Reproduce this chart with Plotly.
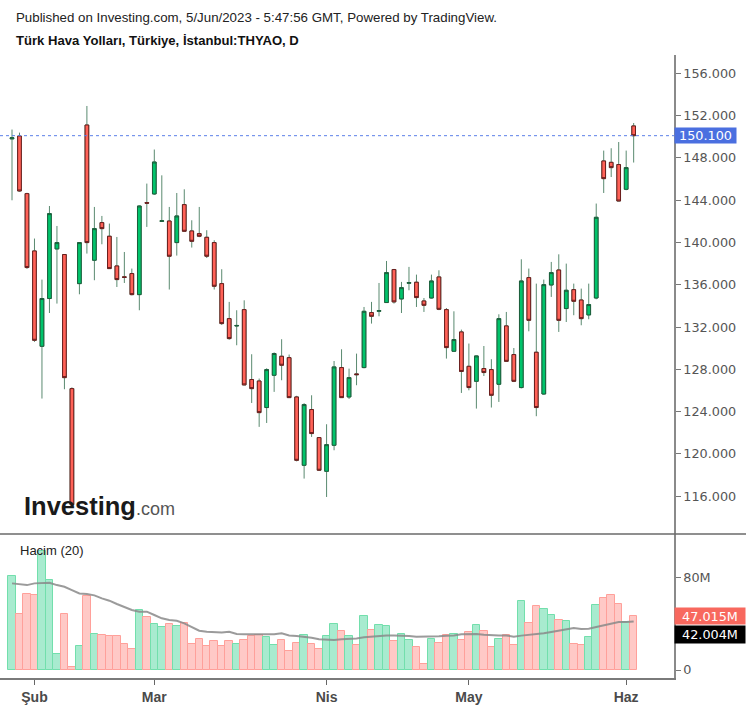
import plotly.graph_objects as go

# ---------------- data ----------------
dates = [
    "2023-01-27", "2023-01-30", "2023-01-31",
    "2023-02-01", "2023-02-02", "2023-02-03", "2023-02-06", "2023-02-07", "2023-02-08",
    "2023-02-15", "2023-02-16", "2023-02-17", "2023-02-20", "2023-02-21", "2023-02-22",
    "2023-02-23", "2023-02-24", "2023-02-27", "2023-02-28",
    "2023-03-01", "2023-03-02", "2023-03-03", "2023-03-06", "2023-03-07", "2023-03-08",
    "2023-03-09", "2023-03-10", "2023-03-13", "2023-03-14", "2023-03-15", "2023-03-16",
    "2023-03-17", "2023-03-20", "2023-03-21", "2023-03-22", "2023-03-23", "2023-03-24",
    "2023-03-27", "2023-03-28", "2023-03-29", "2023-03-30", "2023-03-31",
    "2023-04-03", "2023-04-04", "2023-04-05", "2023-04-06", "2023-04-07", "2023-04-10",
    "2023-04-11", "2023-04-12", "2023-04-13", "2023-04-14", "2023-04-17", "2023-04-18",
    "2023-04-19", "2023-04-20", "2023-04-24", "2023-04-25", "2023-04-26", "2023-04-27",
    "2023-04-28",
    "2023-05-02", "2023-05-03", "2023-05-04", "2023-05-05", "2023-05-08", "2023-05-09",
    "2023-05-10", "2023-05-11", "2023-05-12", "2023-05-15", "2023-05-16", "2023-05-17",
    "2023-05-18", "2023-05-22", "2023-05-23", "2023-05-24", "2023-05-25", "2023-05-26",
    "2023-05-29", "2023-05-30", "2023-05-31",
    "2023-06-01", "2023-06-02",
]

opens = [149.80, 150.07, 144.62, 139.20, 130.18, 134.70, 139.39, 138.86, 126.18, 136.11,
         151.11, 138.32, 141.88, 140.59, 137.78, 136.75, 137.06, 135.07, 143.77, 144.59,
         142.00, 142.03, 139.99, 143.58, 141.09, 140.84, 140.49, 139.99, 136.11, 132.80,
         132.10, 133.65, 127.04, 126.90, 124.39, 127.44, 129.24, 129.11, 125.39, 118.93,
         124.20, 121.55, 118.36, 120.82, 128.17, 125.39, 127.57, 128.17, 133.37, 133.50,
         134.32, 137.44, 134.66, 136.15, 136.24, 134.47, 134.75, 136.74, 133.65, 129.71,
         131.54, 128.29, 126.87, 128.08, 127.98, 126.59, 132.11, 129.40, 126.28, 136.68,
         129.62, 125.67, 135.98, 137.40, 133.75, 135.54, 134.56, 133.15, 134.75, 147.71,
         147.58, 147.37, 145.03, 151.02]
highs = [150.68, 150.39, 144.70, 140.37, 136.49, 143.45, 141.56, 138.90, 126.30, 140.00,
         152.91, 143.36, 142.51, 141.79, 140.52, 139.10, 137.53, 143.50, 145.57, 148.79,
         146.35, 143.36, 144.68, 145.03, 142.10, 143.36, 141.16, 140.21, 137.47, 134.38,
         133.59, 134.53, 129.43, 127.13, 128.10, 129.60, 130.85, 129.40, 125.50, 124.80,
         125.55, 121.60, 122.81, 128.79, 129.90, 128.07, 129.49, 133.90, 134.38, 136.17,
         138.25, 137.50, 136.27, 137.69, 136.96, 134.75, 136.96, 137.37, 133.80, 133.49,
         131.76, 130.44, 129.30, 130.21, 128.96, 133.21, 133.43, 130.02, 138.41, 137.53,
         136.11, 136.49, 138.16, 138.88, 138.00, 136.11, 135.64, 136.11, 143.68, 148.69,
         148.91, 149.50, 148.69, 151.30]
lows = [143.99, 144.80, 137.50, 130.60, 125.24, 133.33, 134.22, 126.12, 115.10, 135.10,
        138.95, 136.43, 139.83, 137.50, 135.79, 136.17, 135.00, 133.59, 141.47, 144.50,
        141.95, 135.55, 138.76, 141.00, 139.52, 140.50, 138.53, 135.55, 132.20, 130.80,
        130.28, 126.50, 124.82, 122.56, 122.93, 125.87, 126.97, 125.30, 119.30, 117.67,
        121.61, 118.40, 115.93, 120.35, 125.30, 125.20, 126.50, 128.10, 132.33, 133.02,
        134.30, 134.22, 133.33, 135.48, 133.90, 133.43, 134.70, 133.60, 129.02, 129.70,
        125.77, 126.02, 124.29, 127.37, 124.39, 124.92, 128.70, 126.80, 126.20, 131.60,
        123.57, 125.60, 134.85, 131.54, 132.48, 133.12, 132.17, 132.74, 134.63, 144.68,
        146.19, 143.90, 144.94, 147.56]
closes = [149.90, 144.87, 137.63, 130.75, 134.70, 142.73, 139.99, 127.22, 115.20, 139.99,
          139.99, 141.31, 141.31, 137.53, 136.49, 136.70, 135.07, 143.45, 143.72, 147.61,
          142.05, 138.70, 142.51, 141.06, 140.11, 140.59, 138.70, 135.86, 132.33, 130.91,
          132.15, 126.53, 126.18, 123.91, 127.98, 129.50, 128.39, 125.33, 119.40, 124.67,
          121.93, 118.46, 120.88, 128.23, 125.33, 127.22, 127.50, 133.49, 133.02, 133.55,
          137.15, 134.38, 135.73, 136.20, 134.79, 134.06, 136.36, 133.68, 130.06, 130.82,
          127.80, 126.28, 129.27, 127.70, 125.55, 132.80, 128.76, 126.87, 136.36, 132.64,
          124.39, 136.01, 137.15, 132.64, 135.48, 134.44, 132.80, 134.13, 142.38, 146.04,
          147.08, 143.92, 147.08, 150.10]

volumes_m = [81.5, 48.5, 65.9, 64.7, 103.4, 78.0, 13.9, 48.5, 2.3, 20.8,
             64.1, 31.2, 30.0, 29.5, 29.5, 22.5, 18.5, 52.0, 45.7, 39.9,
             37.0, 39.9, 38.1, 41.0, 22.5, 27.2, 20.8, 24.8, 20.8, 24.8,
             22.5, 26.0, 29.5, 30.0, 28.3, 21.4, 26.0, 16.2, 23.7, 30.0,
             22.5, 18.5, 29.5, 39.9, 34.1, 29.5, 21.4, 46.8, 34.7, 39.0,
             38.1, 24.8, 31.2, 26.0, 19.6, 5.2, 26.9, 23.7, 30.0, 31.2,
             26.0, 32.9, 38.7, 33.8, 19.6, 26.9, 30.0, 21.4, 59.8, 41.0,
             55.5, 52.9, 47.4, 43.3, 42.5, 22.5, 21.4, 28.3, 56.1, 62.7,
             64.7, 57.2, 41.6, 47.015]

volume_ma_m = [75.1, 74.5, 73.6, 75.1, 75.7, 75.7, 73.6, 72.2, 69.3, 66.4,
               65.8, 64.7, 62.1, 60.1, 57.2, 54.3, 52.0, 50.6, 50.6, 47.7,
               44.8, 43.3, 42.7, 40.4, 37.0, 34.1, 33.2, 32.6, 32.6, 33.2,
               31.2, 30.9, 30.9, 30.9, 30.9, 30.9, 31.8, 30.0, 29.5, 28.9,
               28.0, 26.6, 26.0, 26.0, 26.6, 26.9, 27.4, 28.3, 28.9, 30.0,
               30.0, 30.0, 30.0, 29.5, 28.9, 28.9, 28.9, 29.2, 29.8, 30.0,
               30.9, 31.2, 31.2, 30.6, 30.0, 30.0, 30.0, 28.9, 29.8, 30.3,
               31.2, 31.8, 32.9, 34.1, 34.9, 36.4, 35.5, 35.8, 37.3, 38.7,
               40.1, 41.6, 41.6, 42.004]

month_ticks = ["2023-02-01", "2023-03-01", "2023-04-03", "2023-05-02", "2023-06-01"]
month_labels = ["Şub", "Mar", "Nis", "May", "Haz"]
price_ticks = [116, 120, 124, 128, 132, 136, 140, 144, 148, 152, 156]
volume_ticks = [0, 80]
volume_tick_labels = ["0", "80M"]

# ---------------- styling ----------------
UP_FILL, UP_LINE = "#00c46b", "#1d5e3c"
DN_FILL, DN_LINE = "#ff6257", "#6b1d1d"
WICK = "#5a8a70"
VOL_UP_FILL, VOL_UP_LINE = "#a8ebcf", "#72dfac"
VOL_DN_FILL, VOL_DN_LINE = "#ffc9c6", "#ffa09a"
AXIS_FONT = dict(family="DejaVu Sans", size=12.8, color="#555555")

W, H = 746, 707
ML, MR, MT, MB = 0, 72, 55, 29
PW, PH = W - ML - MR, H - MT - MB


def py(px_y):
    """pixel y (from top) -> paper y"""
    return (H - MB - px_y) / PH


split = py(534)
x_left = -12 / 7.49
x_right = (PW - 12) / 7.49

body_hi = [max(o, c) for o, c in zip(opens, closes)]
body_lo = [min(o, c) for o, c in zip(opens, closes)]
up = [c >= o for o, c in zip(opens, closes)]

fig = go.Figure()

# wicks
fig.add_trace(go.Candlestick(
    x=dates, open=opens, high=highs, low=lows, close=closes,
    increasing=dict(line=dict(color=WICK, width=1), fillcolor=WICK),
    decreasing=dict(line=dict(color=WICK, width=1), fillcolor=WICK),
    xaxis="x", yaxis="y", hoverinfo="skip",
))
# bodies
fig.add_trace(go.Candlestick(
    x=dates, open=opens, high=body_hi, low=body_lo, close=closes,
    increasing=dict(line=dict(color=UP_LINE, width=1), fillcolor=UP_FILL),
    decreasing=dict(line=dict(color=DN_LINE, width=1), fillcolor=DN_FILL),
    xaxis="x", yaxis="y",
))

# volume
fig.add_trace(go.Bar(
    x=dates, y=[v * 1e6 for v in volumes_m],
    marker=dict(color=[VOL_UP_FILL if u else VOL_DN_FILL for u in up],
                line=dict(color=[VOL_UP_LINE if u else VOL_DN_LINE for u in up], width=1)),
    xaxis="x2", yaxis="y2",
))
fig.add_trace(go.Scatter(
    x=dates, y=[v * 1e6 for v in volume_ma_m], mode="lines",
    line=dict(color="#8a8a8a", width=2), opacity=0.85,
    xaxis="x2", yaxis="y2",
))

last_close = closes[-1]
last_vol = volumes_m[-1]
last_ma = volume_ma_m[-1]

fig.update_layout(
    width=W, height=H, margin=dict(l=ML, r=MR, t=MT, b=MB),
    paper_bgcolor="white", plot_bgcolor="white", showlegend=False,
    bargap=0,
    xaxis=dict(type="category", categoryorder="array", categoryarray=dates,
               domain=[0, 1], anchor="y", range=[x_left, x_right],
               showticklabels=False, showgrid=False, zeroline=False, showline=False,
               ticks="", rangeslider=dict(visible=False), fixedrange=True),
    xaxis2=dict(type="category", categoryorder="array", categoryarray=dates,
                domain=[0, 1], anchor="y2", range=[x_left, x_right],
                tickmode="array", tickvals=month_ticks,
                ticktext=[f"<b>{m}</b>" for m in month_labels],
                ticks="outside", ticklen=5, tickcolor="#666", tickwidth=1,
                showline=True, linecolor="#7a7a7a", linewidth=1.5,
                showgrid=False, zeroline=False,
                tickfont=dict(family="Liberation Sans", size=14, color="#4a4a4a")),
    yaxis=dict(domain=[split, 1], anchor="x", side="right",
               range=[112.43, 157.73], tickmode="array", tickvals=price_ticks,
               ticktext=[f"{v:.3f}" for v in price_ticks],
               ticks="outside", ticklen=5, tickcolor="#777",
               showline=True, linecolor="#8a8a8a", linewidth=1.5,
               showgrid=False, zeroline=False, tickfont=AXIS_FONT),
    yaxis2=dict(domain=[0, split], anchor="x2", side="right",
                range=[-6.93e6, 117.9e6], tickmode="array",
                tickvals=[v * 1e6 for v in volume_ticks], ticktext=volume_tick_labels,
                ticks="outside", ticklen=5, tickcolor="#777",
                showline=True, linecolor="#8a8a8a", linewidth=1.5,
                showgrid=False, zeroline=False, tickfont=AXIS_FONT),
)

# last price dotted line
fig.add_shape(type="line", xref="paper", yref="y", x0=0, x1=1,
              y0=last_close, y1=last_close,
              line=dict(color="#5b7fe8", width=1, dash="dot"))
# panel separator
fig.add_shape(type="line", xref="paper", yref="paper", x0=0, x1=W / PW,
              y0=split, y1=split, line=dict(color="#6a6a6a", width=1.5))

annotations = [
    dict(text="Published on Investing.com, 5/Jun/2023 - 5:47:56 GMT, Powered by TradingView.",
         x=14 / PW, y=py(17), xanchor="left", yanchor="middle",
         font=dict(family="Liberation Sans", size=13.3, color="#222")),
    dict(text="<b>Türk Hava Yolları, Türkiye, İstanbul:THYAO, D</b>",
         x=14 / PW, y=py(40), xanchor="left", yanchor="middle",
         font=dict(family="Liberation Sans", size=13.1, color="#111")),
    dict(text="Hacim (20)", x=18 / PW, y=py(550), xanchor="left", yanchor="middle",
         font=dict(family="Liberation Sans", size=13, color="#222")),
    dict(text="<b>Investing</b><span style='font-size:18px;color:#555'>.com</span>",
         x=22 / PW, y=py(506), xanchor="left", yanchor="middle",
         font=dict(family="Liberation Sans", size=25.5, color="#1a1a1a")),
    # price label
    dict(text=f"{last_close:.3f}", xref="paper", yref="y", x=1, y=last_close,
         xanchor="left", yanchor="middle", bgcolor="#4a6fe0", borderpad=0,
         width=61, height=15, align="center",
         font=dict(family="DejaVu Sans", size=12.8, color="white")),
    # volume label
    dict(text=f"{last_vol:.3f}M", xref="paper", yref="y2", x=1, y=last_vol * 1e6,
         xanchor="left", yanchor="middle", bgcolor="#f8685e", borderpad=0,
         width=70, height=16, align="center",
         font=dict(family="DejaVu Sans", size=12.8, color="white")),
    # volume MA label
    dict(text=f"{last_ma:.3f}M", xref="paper", yref="y2", x=1, y=last_ma * 1e6,
         xanchor="left", yanchor="middle", bgcolor="#000000", borderpad=0,
         width=70, height=17, align="center", yshift=-13,
         font=dict(family="DejaVu Sans", size=12.8, color="white")),
]
for a in annotations:
    a.setdefault("xref", "paper")
    a.setdefault("yref", "paper")
    a["showarrow"] = False
    fig.add_annotation(**a)

fig.write_html("out.html")
